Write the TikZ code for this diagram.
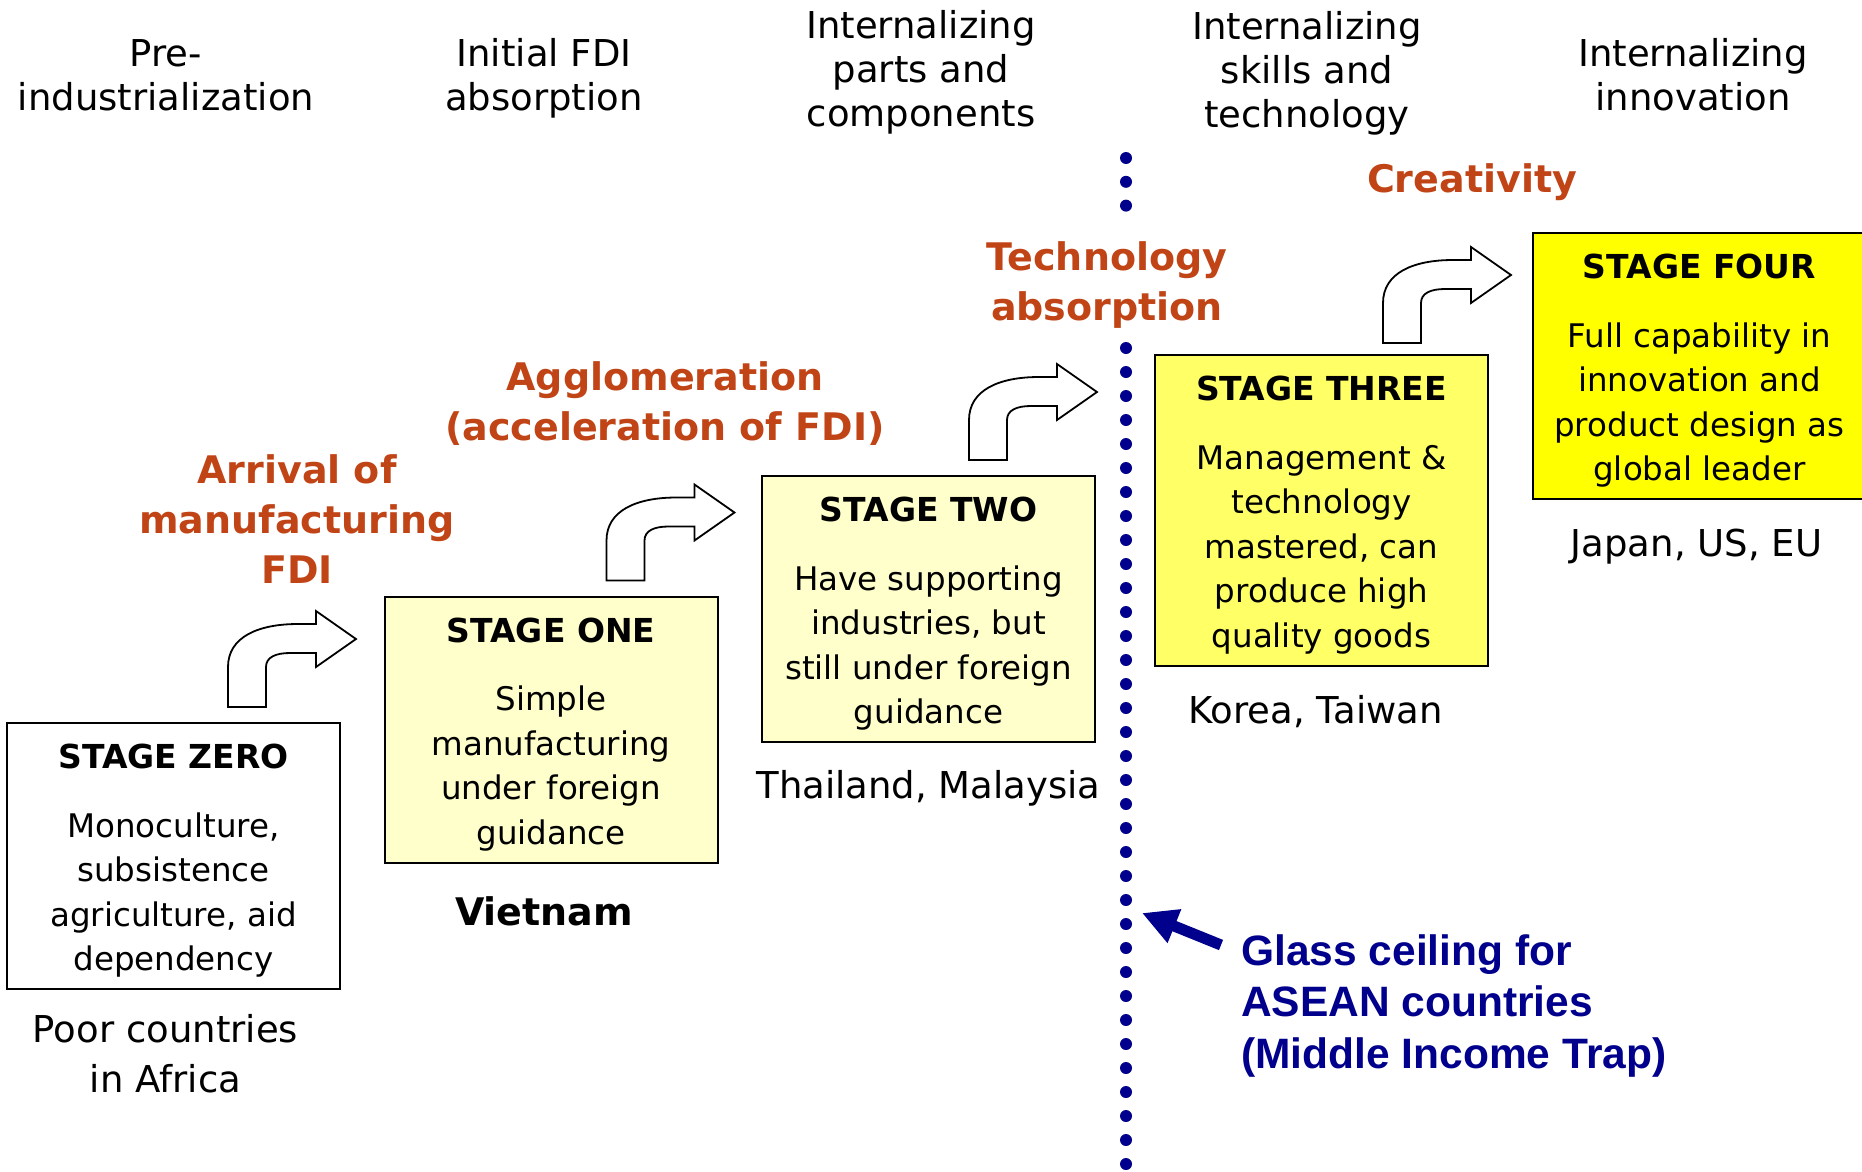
\documentclass[tikz,border=0pt]{standalone}
\usepackage{fontspec}
\setmainfont{DejaVu Sans}
\newfontfamily\glassfont{Liberation Sans}
\usetikzlibrary{arrows.meta,positioning,calc}

\definecolor{paleyellow}{HTML}{FFFFCC}
\definecolor{midyellow}{HTML}{FFFF66}
\definecolor{fullyellow}{HTML}{FFFF00}
\definecolor{rust}{RGB}{192,68,22}
\definecolor{ceilblue}{RGB}{0,0,140}

\begin{document}
\begin{tikzpicture}[x=1pt,y=1pt,
        stagebox/.style={draw,line width=2pt,minimum width=333pt,minimum height=266pt,
            align=center,inner sep=0pt,font=\fontsize{32.5}{44.5}\selectfont},
        phase/.style={align=center,inner sep=0pt,font=\fontsize{37}{44}\selectfont},
        driver/.style={align=center,inner sep=0pt,text=rust,font=\bfseries\fontsize{38}{50}\selectfont},
        country/.style={align=center,inner sep=0pt,font=\fontsize{37}{50}\selectfont},
        glass/.style={align=left,inner sep=0pt,text=ceilblue,font=\glassfont\bfseries\fontsize{42.5}{51.5}\selectfont},
        bentarrow/.pic={
            \draw[line width=1.8pt,fill=white] (0,0) -- (0,40) .. controls (0,70) and (30,83) .. (70,83)
                -- (88,83) -- (88,96) -- (128,68) -- (88,40) -- (88,54) -- (62,54)
                .. controls (48,54) and (38,50) .. (38,40) -- (38,0) -- cycle;
        }]
        \useasboundingbox (0,0) rectangle (1862,-1171);

        % phases along the top
        \node[phase] (h0) at (166,-75)  {Pre-\\industrialization};
        \node[phase] (h1) at (544,-78)  {Initial FDI\\absorption};
        \node[phase] (h2) at (921,-72)  {Internalizing\\parts and\\components};
        \node[phase] (h3) at (1307,-73) {Internalizing\\skills and\\technology};
        \node[phase] (h4) at (1693,-75) {Internalizing\\innovation};

        % glass ceiling
        \draw[ceilblue,line width=12pt,line cap=round,dash pattern=on 0pt off 23.8pt] (1126,-158) -- (1126,-215);
        \draw[ceilblue,line width=12pt,line cap=round,dash pattern=on 0pt off 24pt] (1126,-348) -- (1126,-1185);

        % stages
        \node[stagebox,fill=white] (s0) at (173.5,-856) {\rule{0pt}{34pt}{\bfseries\fontsize{33}{44.5}\selectfont STAGE ZERO}\\[24pt]
            Monoculture,\\subsistence\\agriculture, aid\\dependency};
        \node[stagebox,fill=paleyellow] (s1) at (551,-729.5) {\rule{0pt}{34pt}{\bfseries\fontsize{33}{44.5}\selectfont STAGE ONE}\\[24pt]
            Simple\\manufacturing\\under foreign\\guidance};
        \node[stagebox,fill=paleyellow] (s2) at (928.5,-609) {\rule{0pt}{34pt}{\bfseries\fontsize{33}{44.5}\selectfont STAGE TWO}\\[24pt]
            Have supporting\\industries, but\\still under foreign\\guidance};
        \node[stagebox,fill=midyellow,minimum height=311pt] (s3) at (1321.5,-510.5) {\rule{0pt}{34pt}{\bfseries\fontsize{33}{44.5}\selectfont STAGE THREE}\\[24pt]
            Management \&\\technology\\mastered, can\\produce high\\quality goods};
        \node[stagebox,fill=fullyellow] (s4) at (1699.5,-366) {\rule{0pt}{34pt}{\bfseries\fontsize{33}{44.5}\selectfont STAGE FOUR}\\[24pt]
            Full capability in\\innovation and\\product design as\\global leader};

        % countries
        \node[country,below=24pt of s0,xshift=-8pt] (c0) {Poor countries\\in Africa};
        \node[country,below=33pt of s1,xshift=-7pt,font=\bfseries\fontsize{38}{50}\selectfont] (c1) {Vietnam};
        \node[country,below=27pt of s2] (c2) {Thailand, Malaysia};
        \node[country,below=28pt of s3,xshift=-6pt] (c3) {Korea, Taiwan};
        \node[country,below=29pt of s4,xshift=-3pt] (c4) {Japan, US, EU};

        % steps up
        \pic at ($(s0.north east)+(-113,15)$) {bentarrow};
        \pic at ($(s1.north east)+(-112,15)$) {bentarrow};
        \pic at ($(s2.north east)+(-127,15)$) {bentarrow};
        \pic at ($(s3.north east)+(-106,11)$) {bentarrow};

        \node[driver] (d1) at (297,-519)  {Arrival of\\manufacturing\\FDI};
        \node[driver] (d2) at (665,-404)  {Agglomeration\\(acceleration of FDI)};
        \node[driver] (d3) at (1107,-285) {Technology\\absorption};
        \node[driver] (d4) at (1472,-182) {Creativity};

        \node[glass,anchor=north west] (gc) at (1241,-934) {Glass ceiling for\\ASEAN countries\\(Middle Income Trap)};
        \coordinate (ceil) at (1142,-913);
        \draw[ceilblue,line width=11pt,-{Triangle[length=35pt,width=34pt]}] ($(gc.north west)+(-20,-11)$) -- (ceil);
    \end{tikzpicture}
\end{document}
